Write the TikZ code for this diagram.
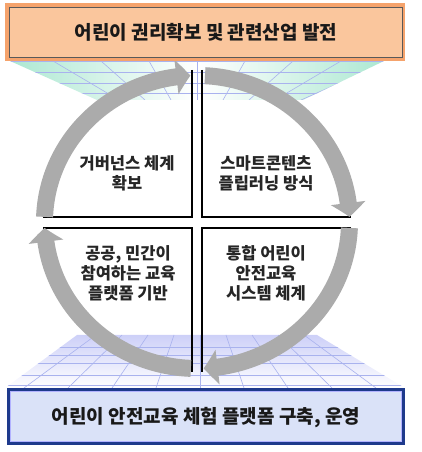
\documentclass[tikz,border=0pt]{standalone}
\usepackage{fontspec}
\newfontfamily\kr{Noto Sans CJK KR}
\usetikzlibrary{arrows.meta,bending}
\definecolor{arcgray}{HTML}{ABABAB}
\definecolor{mint}{HTML}{ADE8D2}
\definecolor{lav}{HTML}{CDD0F8}
\definecolor{gridline}{HTML}{A9B2EE}
\definecolor{orangeout}{HTML}{F5A36C}
\definecolor{orangein}{HTML}{FAC69D}
\definecolor{blueout}{HTML}{1E3A8C}
\definecolor{bluein}{HTML}{DAE2F8}
\tikzset{
  quadline/.style={line width=1.5pt, black},
  cyclearc/.style={line width=17pt, arcgray, -{Triangle[width=34pt,length=14pt,bend]}},
  gridln/.style={gridline, line width=0.6pt},
  quadtext/.style={font=\kr\bfseries\fontsize{16.5}{20}\selectfont, align=center, text=black!85},
  titletext/.style={font=\kr\bfseries\fontsize{19}{20}\selectfont, text=black!90}
}
\begin{document}
\begin{tikzpicture}[x=1pt,y=1pt]
\useasboundingbox (0,0) rectangle (422,452);

% top perspective grid
\begin{scope}
  \clip (10,391) -- (384,391) -- (303,352) -- (97,352) -- cycle;
  \shade[left color=mint, right color=mint, middle color=white] (10,352) rectangle (384,392);
  \foreach \yy in {391,380,369,359} \draw[gridln] (0,\yy) -- (422,\yy);
  \foreach \k in {-4,...,4} \draw[gridln] (197+\k*48,391) -- (197+\k*26,352);
\end{scope}

% bottom perspective grid
\begin{scope}
  \clip (5,64) -- (77,117) -- (317,117) -- (405,64) -- cycle;
  \shade[top color=lav, bottom color=white] (0,64) rectangle (422,117);
  \foreach \yy in {105,97,89,77,67} \draw[gridln] (0,\yy) -- (422,\yy);
  \foreach \k in {-5,...,5} \draw[gridln] (200+\k*26,117) -- (200+\k*44,64);
\end{scope}

% quadrant borders
\coordinate (c) at (197,230);
\draw[quadline] (192,382) -- (192,235) -- (43,235);
\draw[quadline] (202,382) -- (202,235) -- (351,235);
\draw[quadline] (192,80) -- (192,224) -- (43,224);
\draw[quadline] (202,80) -- (202,224) -- (351,224);

% cycle arrows
\draw[cyclearc] (c) ++(178:152.5 and 146.5) arc[start angle=178, end angle=92.5, x radius=152.5, y radius=146.5];
\draw[cyclearc] (c) ++(87:152.5 and 146.5) arc[start angle=87, end angle=2, x radius=152.5, y radius=146.5];
\draw[cyclearc] (c) ++(-2.3:152.5 and 146.5) arc[start angle=-2.3, end angle=-87.5, x radius=152.5, y radius=146.5];
\draw[cyclearc] (c) ++(-92.3:152.5 and 146.5) arc[start angle=-92.3, end angle=-177.7, x radius=152.5, y radius=146.5];

% top box
\fill[orangeout] (5,391) rectangle (405,449);
\filldraw[fill=orangein, draw=black!65, line width=0.8pt] (9,395) rectangle (402,445);
\node[titletext] (top) at (206,420) {어린이 권리확보 및 관련산업 발전};

% bottom box
\fill[blueout] (7,7) rectangle (405,64);
\filldraw[fill=bluein, draw=blue!30, line width=0.8pt] (10.5,10.5) rectangle (401.5,60.5);
\node[titletext] (bottom) at (206,34) {어린이 안전교육 체험 플랫폼 구축, 운영};

% quadrant texts
\node[quadtext] (tl) at (127,279) {거버넌스 체계\\확보};
\node[quadtext] (tr) at (266,279) {스마트콘텐츠\\플립러닝 방식};
\node[quadtext] (bl) at (128,179) {공공, 민간이\\참여하는 교육\\플랫폼 기반};
\node[quadtext] (br) at (266,179) {통합 어린이\\안전교육\\시스템 체계};
\end{tikzpicture}
\end{document}
